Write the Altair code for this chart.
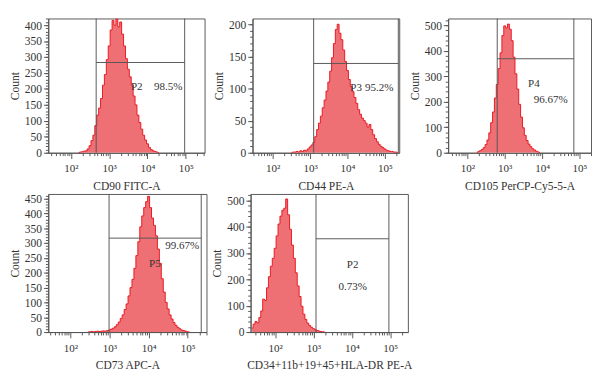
import altair as alt
import pandas as pd

FONT = "Liberation Serif"
FILL = "#EF7074"
LINE = "#E8161E"
GATE = "#555555"
TXT = "#333333"
STEP = 0.05  # bin width in log10 units

# ---------------- histogram counts ----------------
cd90_start = 2.20
cd90_counts = [0, 2, 3, 5, 6, 12, 22, 38, 55, 85, 118, 140, 170, 212, 245, 292, 335, 385,
               415, 400, 420, 395, 410, 372, 335, 295, 262, 238, 212, 178, 150, 118, 95, 74,
               55, 40, 28, 17, 10, 6, 4, 2, 0]

cd44_start = 2.50
cd44_counts = [0, 1, 1, 2, 1, 3, 2, 4, 3, 6, 9, 12, 16, 25, 36, 46, 57, 70, 82, 96, 110, 127,
               148, 170, 192, 200, 186, 176, 160, 142, 128, 114, 103, 95, 86, 77, 67, 60, 54,
               50, 46, 40, 44, 36, 28, 22, 17, 13, 10, 8, 6, 4, 3, 2, 2, 1, 1, 0]

cd105_start = 2.25
cd105_counts = [0, 4, 8, 13, 20, 32, 50, 78, 118, 160, 215, 268, 330, 392, 460, 498, 490, 505,
                485, 440, 375, 310, 250, 190, 140, 98, 68, 48, 34, 24, 16, 11, 6, 3, 0]

cd73_start = 2.45
cd73_counts = [0, 1, 2, 1, 2, 3, 2, 3, 4, 3, 5, 7, 10, 13, 18, 25, 34, 46, 58, 76, 95, 122, 150,
               178, 215, 258, 305, 355, 392, 420, 440, 458, 420, 385, 360, 325, 280, 232, 180,
               135, 100, 78, 58, 44, 32, 23, 16, 11, 7, 5, 3, 1, 0]

neg_start = 1.40
neg_counts = [15, 30, 40, 35, 55, 80, 125, 120, 168, 210, 250, 280, 318, 365, 410, 440, 462, 470,
              505, 445, 390, 330, 280, 225, 175, 135, 98, 68, 48, 34, 25, 18, 13, 9, 6, 4, 2, 1, 0]

# ---------------- axes / gates / labels ----------------
x_titles = ["CD90 FITC-A", "CD44 PE-A", "CD105 PerCP-Cy5-5-A", "CD73 APC-A",
            "CD34+11b+19+45+HLA-DR PE-A"]
x_domains_log = [(1.41, 5.49), (1.46, 5.385), (1.487, 5.31), (1.436, 5.48), (1.36, 5.46)]
y_max = [421, 209, 527, 466, 524]
y_major_step = [50, 50, 100, 50, 100]
y_minor_step = [10, 10, 20, 10, 20]
gate_left_log = [2.66, 3.095, 2.80, 2.99, 3.065]
gate_right_log = [4.97, 5.36, 4.85, 5.345, 4.965]
gate_height = [283, 139, 369, 317, 354]
gate_names = ["P2", "P3", "P4", "P5", "P2"]
gate_pcts = ["98.5%", "95.2%", "96.67%", "99.67%", "0.73%"]
name_pos = [(3.72, 207), (4.23, 101), (3.78, 268), (4.16, 230), (4.02, 254)]
pct_pos = [(4.54, 207), (4.85, 101), (4.23, 205), (4.86, 291), (4.02, 170)]
widths = [163, 153, 149, 165, 164]
heights = [140, 140, 140, 144, 144]

X_MAJOR = [100, 1000, 10000, 100000]
X_MINOR = [m * 10 ** k for k in range(1, 6) for m in range(2, 10)]
LABEL_EXPR = ("datum.value == 100 ? '10\u00b2' : datum.value == 1000 ? '10\u00b3' : "
              "datum.value == 10000 ? '10\u2074' : '10\u2075'")


def panel(i, start, counts):
    df = pd.DataFrame({"x": [10 ** (start + k * STEP) for k in range(len(counts))],
                       "count": counts})
    lo, hi = x_domains_log[i]
    xs = alt.Scale(type="log", domain=[10 ** lo, 10 ** hi], nice=False)
    ys = alt.Scale(domain=[0, y_max[i]], nice=False, zero=True)
    ymaj = list(range(0, y_max[i] + 1, y_major_step[i]))
    ymin = list(range(0, y_max[i] + 1, y_minor_step[i]))

    area = alt.Chart(df).mark_area(
        interpolate="step", color=FILL, opacity=1, clip=True,
        line={"color": LINE, "strokeWidth": 1},
    ).encode(
        x=alt.X("x:Q", scale=xs, axis=alt.Axis(
            values=X_MAJOR, labelExpr=LABEL_EXPR, title=x_titles[i], orient="bottom",
            tickSize=6, labelPadding=5, titlePadding=7, labelFontSize=11.5,
            labelOverlap=False, labelFlush=False)),
        y=alt.Y("count:Q", scale=ys, axis=alt.Axis(
            values=ymaj, title="Count", orient="left", tickSize=5, labelPadding=2,
            titlePadding=3, labelFontSize=12)),
    )
    minor = alt.Chart(df).mark_point(opacity=0).encode(
        x=alt.X("x:Q", scale=xs, axis=alt.Axis(
            values=X_MINOR, labels=False, domain=False, tickSize=3, title=None,
            orient="bottom")),
        y=alt.Y("count:Q", scale=ys, axis=alt.Axis(
            values=ymin, labels=False, domain=False, tickSize=3, title=None,
            orient="left")),
    )
    vdf = pd.DataFrame({"gx": [10 ** gate_left_log[i], 10 ** gate_right_log[i]]})
    vrules = alt.Chart(vdf).mark_rule(color=GATE, strokeWidth=1).encode(
        x=alt.X("gx:Q", scale=xs, axis=None))
    hdf = pd.DataFrame({"gx1": [10 ** gate_left_log[i]], "gx2": [10 ** gate_right_log[i]],
                        "gy": [gate_height[i]]})
    hrule = alt.Chart(hdf).mark_rule(color=GATE, strokeWidth=1).encode(
        x=alt.X("gx1:Q", scale=xs, axis=None), x2="gx2:Q",
        y=alt.Y("gy:Q", scale=ys, axis=None))
    tdf = pd.DataFrame({
        "t": [gate_names[i], gate_pcts[i]],
        "tx": [10 ** name_pos[i][0], 10 ** pct_pos[i][0]],
        "ty": [name_pos[i][1], pct_pos[i][1]],
    })
    text = alt.Chart(tdf).mark_text(font=FONT, fontSize=11.5, color=TXT).encode(
        x=alt.X("tx:Q", scale=xs, axis=None),
        y=alt.Y("ty:Q", scale=ys, axis=None),
        text="t:N")
    return alt.layer(area, minor, vrules, hrule, text).resolve_axis(
        x="independent", y="independent").properties(width=widths[i], height=heights[i])


p1 = panel(0, cd90_start, cd90_counts)
p2 = panel(1, cd44_start, cd44_counts)
p3 = panel(2, cd105_start, cd105_counts)
p4 = panel(3, cd73_start, cd73_counts)
p5 = panel(4, neg_start, neg_counts)

row1 = alt.hconcat(p1, p2, p3, spacing=7)
row2 = alt.hconcat(p4, p5, spacing=3)

chart = alt.vconcat(row1, row2, spacing=0).properties(
    padding={"left": 0, "top": 0, "right": 0, "bottom": 0}
).configure_view(
    stroke="#555555", strokeWidth=1
).configure_axis(
    labelFont=FONT, titleFont=FONT, titleFontSize=12, titleFontWeight="normal",
    domainColor="#555555", tickColor="#555555", labelColor=TXT, titleColor=TXT,
    grid=False,
)

chart.save("out.html", embed_options={"renderer": "svg", "actions": False})
